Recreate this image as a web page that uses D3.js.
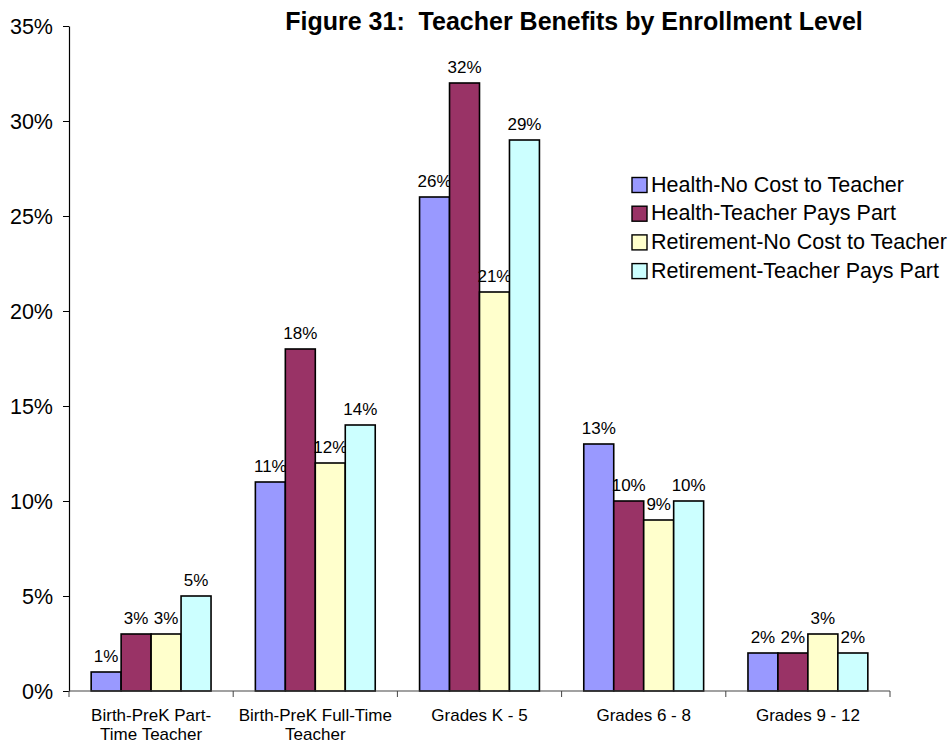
<!DOCTYPE html>
<html><head><meta charset="utf-8">
<script src="https://cdn.jsdelivr.net/npm/d3@7"></script>
<style>body{margin:0;background:#fff;font-family:"Liberation Sans",Arial,sans-serif;}</style>
</head><body>
<svg id="c" width="951" height="744" style="font-family:'Liberation Sans',Arial,sans-serif"></svg>
<script>
const categories = [["Birth-PreK Part-","Time Teacher"],["Birth-PreK Full-Time","Teacher"],["Grades K - 5"],["Grades 6 - 8"],["Grades 9 - 12"]];
const seriesNames = ["Health-No Cost to Teacher","Health-Teacher Pays Part","Retirement-No Cost to Teacher","Retirement-Teacher Pays Part"];
const healthNoCost = [1, 11, 26, 13, 2];
const healthPaysPart = [3, 18, 32, 10, 2];
const retireNoCost = [3, 12, 21, 9, 3];
const retirePaysPart = [5, 14, 29, 10, 2];
const yTicks = [0,5,10,15,20,25,30,35];
const colors = ["#9999FF","#993366","#FFFFCC","#CCFFFF"];
const series = [healthNoCost, healthPaysPart, retireNoCost, retirePaysPart];

(function(){
const svg = d3.select("#c");
const mLeft = 69, mRight = 890, mTop = 26, mBottom = 691;
const x0 = d3.scaleBand().domain(d3.range(categories.length)).range([mLeft, mRight]).paddingInner(0.27).paddingOuter(0.135);
const x1 = d3.scaleBand().domain(d3.range(series.length)).range([0, x0.bandwidth()]);
const y = d3.scaleLinear().domain([0, 35]).range([mBottom, mTop]);

const ya = svg.append("g").attr("transform", `translate(${mLeft},0)`)
  .call(d3.axisLeft(y).tickValues(yTicks).tickFormat(d => d + "%").tickSize(6).tickSizeOuter(0));
ya.select(".domain").attr("stroke", "#000").attr("stroke-width", 1.2);
ya.selectAll(".tick line").attr("stroke", "#000");
ya.selectAll(".tick text").attr("font-size", 21.5).attr("font-family", "Liberation Sans, Arial, sans-serif").attr("fill", "#000").attr("x", -16).attr("dy", "0.35em");

const groups = svg.append("g").selectAll("g").data(categories).join("g")
  .attr("transform", (d, i) => `translate(${x0(i)},0)`);
series.forEach((s, si) => {
  groups.append("rect")
    .attr("x", x1(si))
    .attr("y", (d, i) => y(s[i]))
    .attr("width", x1.bandwidth())
    .attr("height", (d, i) => y(0) - y(s[i]))
    .attr("fill", colors[si]).attr("stroke", "#000").attr("stroke-width", 1.6);
  groups.append("text")
    .attr("x", x1(si) + x1.bandwidth() / 2)
    .attr("y", (d, i) => y(s[i]) - 10)
    .attr("text-anchor", "middle").attr("font-size", 17).attr("fill", "#000")
    .text((d, i) => s[i] + "%");
});

const xa = svg.append("g").attr("transform", `translate(0,${mBottom})`);
xa.append("line").attr("x1", mLeft).attr("x2", mRight).attr("stroke", "#444").attr("stroke-width", 1.2);
const step = (mRight - mLeft) / categories.length;
d3.range(categories.length + 1).forEach(i => {
  xa.append("line").attr("x1", mLeft + i * step).attr("x2", mLeft + i * step).attr("y1", 0).attr("y2", 6).attr("stroke", "#444");
});
categories.forEach((lines, i) => {
  const t = xa.append("text").attr("text-anchor", "middle").attr("font-size", 17).attr("fill", "#000")
    .attr("transform", `translate(${x0(i) + x0.bandwidth() / 2},0)`);
  lines.forEach((ln, k) => t.append("tspan").attr("x", 0).attr("y", 30 + k * 19).text(ln));
});

svg.append("text").attr("x", 574).attr("y", 30).attr("text-anchor", "middle")
  .attr("font-size", 25).attr("font-weight", "bold").attr("fill", "#000")
  .style("white-space", "pre")
  .text("Figure 31:  Teacher Benefits by Enrollment Level");

const lg = svg.append("g").attr("transform", "translate(632,184)");
seriesNames.forEach((n, i) => {
  const g = lg.append("g").attr("transform", `translate(0,${i * 28.7})`);
  g.append("rect").attr("x", 0).attr("y", -6.5).attr("width", 15).attr("height", 15)
    .attr("fill", colors[i]).attr("stroke", "#000").attr("stroke-width", 1.4);
  g.append("text").attr("x", 19).attr("y", 0).attr("dy", "0.35em").attr("font-size", 21.5).attr("fill", "#000").text(n);
});
})();
</script>
</body></html>
